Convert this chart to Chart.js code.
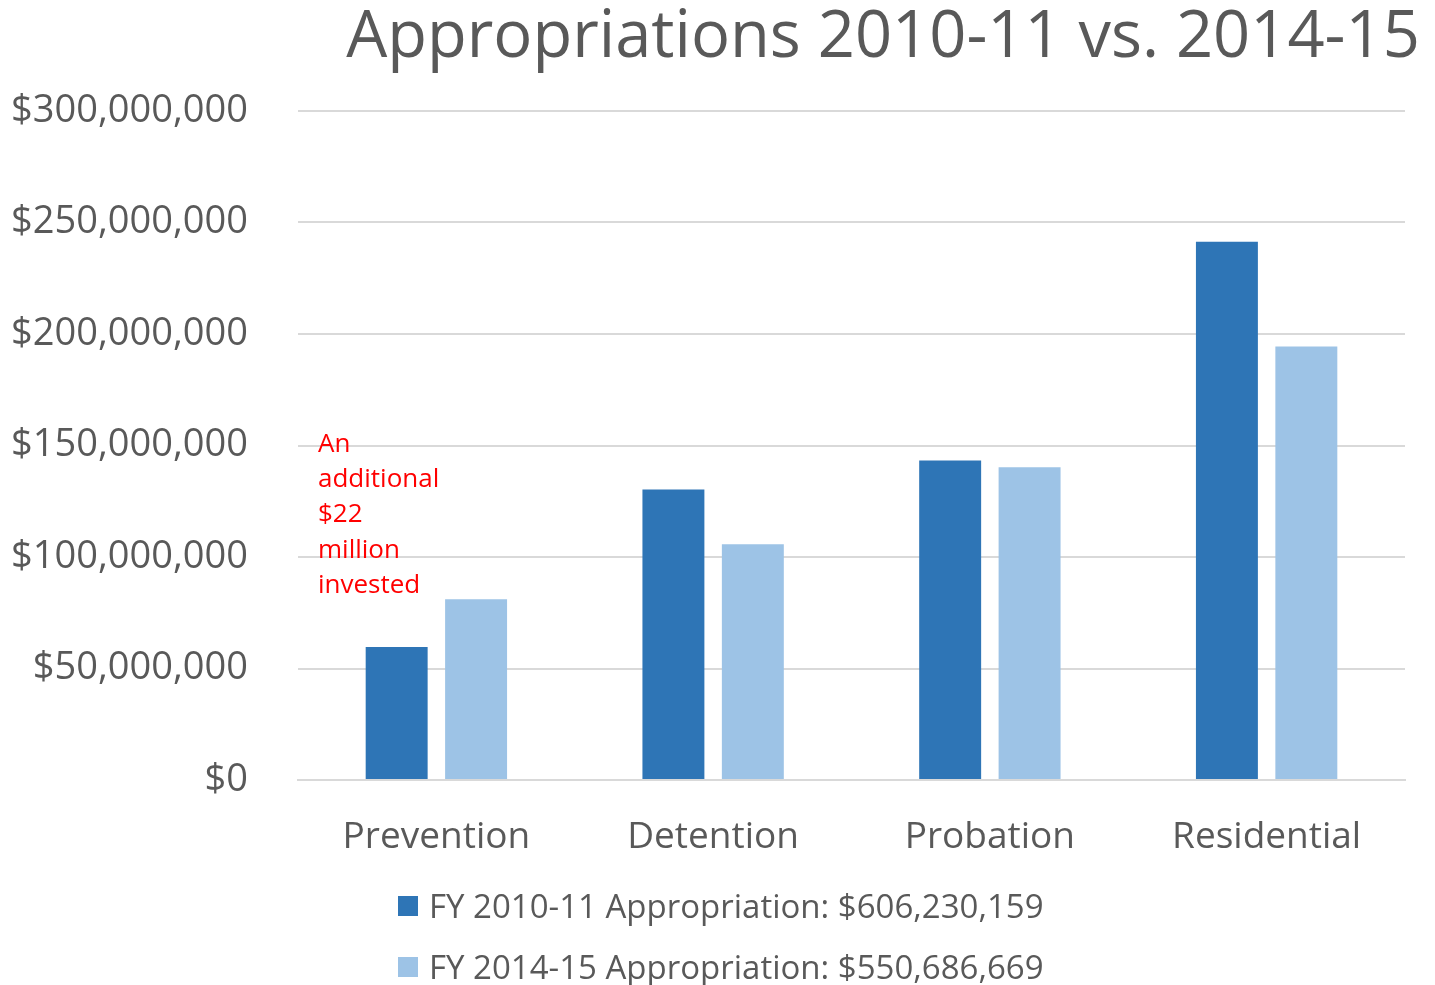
<!DOCTYPE html>
<html>
<head>
<meta charset="utf-8">
<script src="https://cdn.jsdelivr.net/npm/chart.js@4.4.1/dist/chart.umd.min.js"></script>
<style>
  body { margin: 0; background: #fff; font-family: "Open Sans", sans-serif; }
  #wrap { position: relative; width: 1435px; height: 985px; }
  .legend-row { position: absolute; left: 398px; display: flex; align-items: center; color: #595959; font-size: 33px; white-space: nowrap; }
  .legend-row span.sw { width: 20px; height: 20px; margin-right: 11px; display: inline-block; }
</style>
</head>
<body>
<div id="wrap">
  <canvas id="appropChart" width="1435" height="985"></canvas>
  <div id="legend"></div>
</div>
<script>
const categories = ["Prevention", "Detention", "Probation", "Residential"];
const fy1011 = [59.6e6, 130.3e6, 143.3e6, 241.4e6];
const fy1415 = [81.0e6, 105.7e6, 140.2e6, 194.4e6];
const seriesLabels = [
  "FY 2010-11 Appropriation: $606,230,159",
  "FY 2014-15 Appropriation: $550,686,669",
];
const seriesColors = ["#2E75B6", "#9DC3E6"];
const noteLines = ["An", "additional", "$22", "million", "invested"];
const titleText = "Appropriations 2010-11 vs. 2014-15";

const textColor = "#595959";
const fontFamily = "'Open Sans', sans-serif";

// title + red note drawn on the canvas
const extrasPlugin = {
  id: "extras",
  afterDraw(chart) {
    const { ctx, chartArea, scales } = chart;
    ctx.save();
    ctx.fillStyle = textColor;
    ctx.font = "65px " + fontFamily;
    ctx.textAlign = "center";
    ctx.textBaseline = "middle";
    ctx.fillText(titleText, 883, 38);

    ctx.fillStyle = "#FF0000";
    ctx.font = "26px " + fontFamily;
    ctx.textAlign = "left";
    const y0 = scales.y.getPixelForValue(150e6) - 1;
    noteLines.forEach((line, i) => {
      ctx.fillText(line, chartArea.left + 20, y0 + i * 35.2);
    });
    ctx.restore();
  },
};

new Chart(document.getElementById("appropChart"), {
  type: "bar",
  data: {
    labels: categories,
    datasets: [
      { label: seriesLabels[0], data: fy1011, backgroundColor: seriesColors[0] },
      { label: seriesLabels[1], data: fy1415, backgroundColor: seriesColors[1] },
    ],
  },
  options: {
    responsive: false,
    animation: false,
    layout: { padding: { top: 111, right: 30, left: 0, bottom: 0 } },
    datasets: { bar: { categoryPercentage: 0.574, barPercentage: 0.78 } },
    plugins: {
      legend: { display: false },
      tooltip: { enabled: false },
    },
    scales: {
      x: {
        grid: { display: false },
        border: { color: "#D9D9D9", width: 2 },
        ticks: { color: textColor, font: { family: fontFamily, size: 37 }, padding: 27 },
        afterFit(scale) { scale.height = 205; },
      },
      y: {
        min: 0,
        max: 300e6,
        grid: { color: "#D9D9D9", lineWidth: 2, drawTicks: false },
        border: { display: false },
        ticks: {
          stepSize: 50e6,
          padding: 50,
          color: textColor,
          font: { family: fontFamily, size: 38 },
          callback: (v) => "$" + v.toLocaleString("en-US"),
        },
        afterFit(scale) { scale.width = 298; },
      },
    },
  },
  plugins: [extrasPlugin],
});

// legend below the plot
const legendBox = document.getElementById("legend");
seriesLabels.forEach((label, i) => {
  const row = document.createElement("div");
  row.className = "legend-row";
  row.style.top = (883 + i * 61) + "px";
  row.innerHTML = '<span class="sw" style="background:' + seriesColors[i] + '"></span>' + label;
  legendBox.appendChild(row);
});
</script>
</body>
</html>
